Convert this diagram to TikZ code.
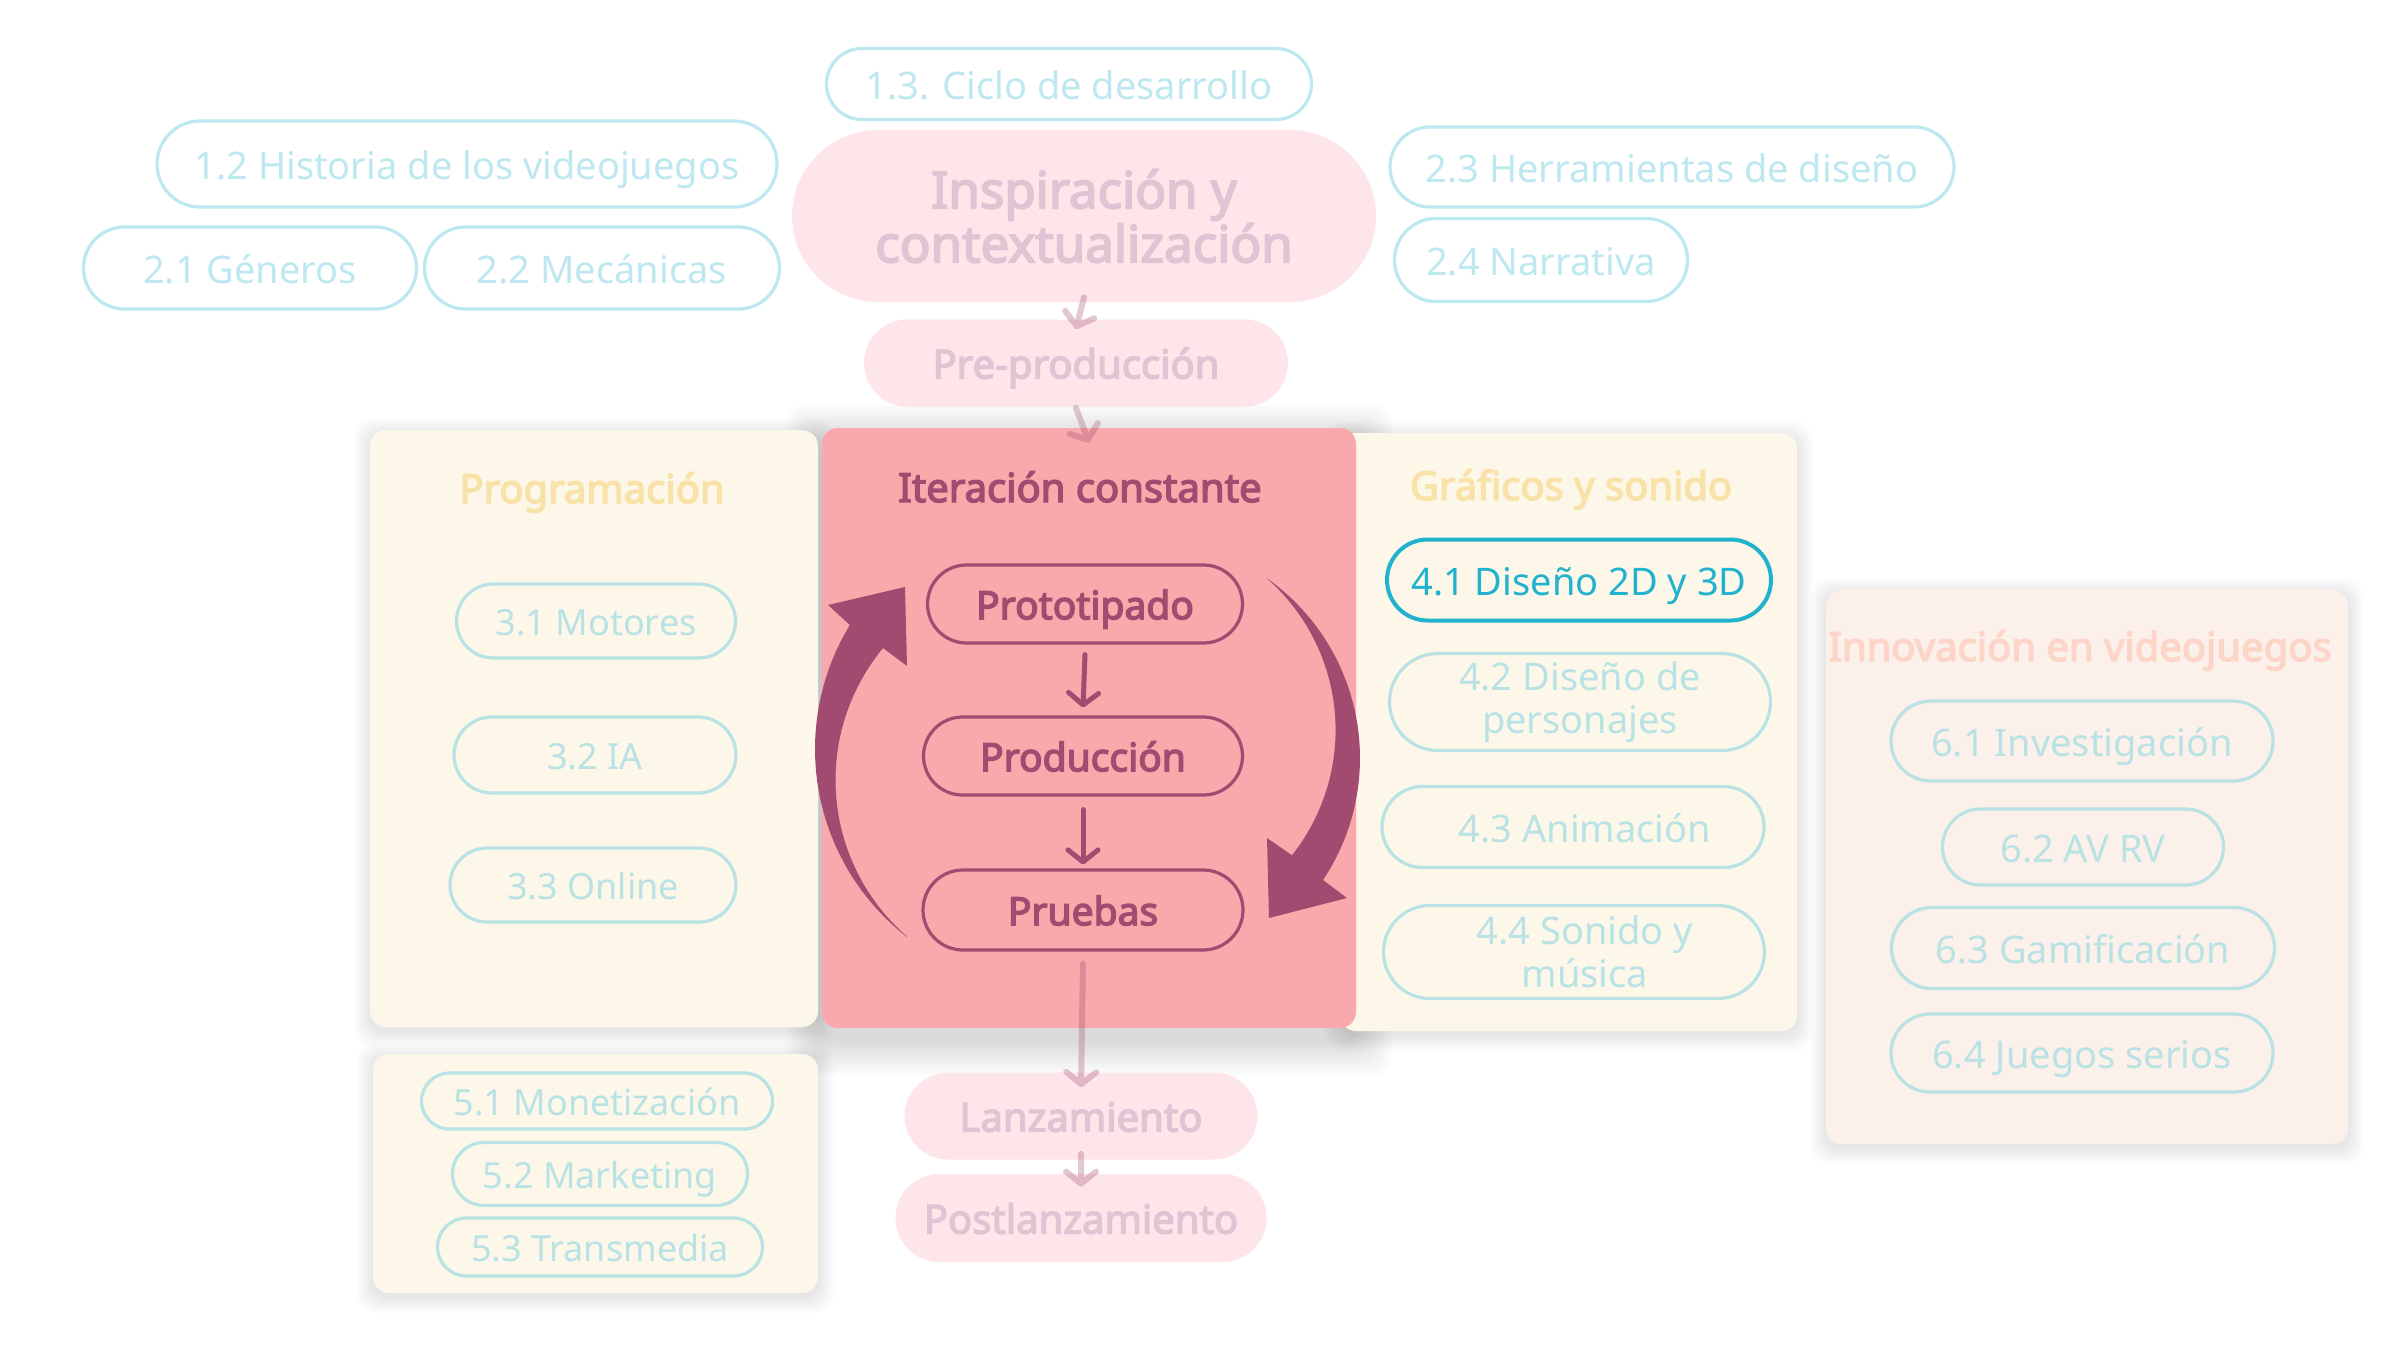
\documentclass[tikz,border=0pt]{standalone}
\usepackage{fontspec}
\setmainfont{Noto Sans}[AutoFakeBold=3.5]
\usetikzlibrary{arrows.meta,calc}
\definecolor{cyanTop}{RGB}{189,232,240}
\definecolor{cyanSub}{RGB}{184,226,228}
\definecolor{cyanHot}{RGB}{33,178,206}
\definecolor{creamPanel}{RGB}{253,247,234}
\definecolor{peachPanel}{RGB}{252,240,234}
\definecolor{yellowTitle}{RGB}{248,226,168}
\definecolor{peachTitle}{RGB}{252,213,200}
\definecolor{stageFill}{RGB}{253,229,233}
\definecolor{stageText}{RGB}{225,196,212}
\definecolor{iterFill}{RGB}{249,168,172}
\definecolor{mauve}{RGB}{162,74,111}
\newcommand\lvlfont{\fontsize{19pt}{21.5pt}\selectfont}
\newcommand\lvlsmall{\fontsize{18pt}{21pt}\selectfont}
\newcommand\stagefont{\bfseries\fontsize{20pt}{23pt}\selectfont}
\newcommand\inspfont{\bfseries\fontsize{25.5pt}{27pt}\selectfont}
\newcommand\titlefont{\bfseries\fontsize{20pt}{23pt}\selectfont}
\newcommand\iterfont{\bfseries\fontsize{19.5pt}{22pt}\selectfont}
\newcommand\dropshade[7]{%
  \foreach \i in {1,...,12}{%
    \fill[black, opacity=#6, rounded corners=9pt]
      ({#1-#5*\i/12},{#2-#5*\i/12+#7}) rectangle ({#3+#5*\i/12},{#4+#5*\i/12+#7});}}
\tikzset{
  pill/.style 2 args={rectangle, rounded corners=#2*0.25pt, minimum width=#1*0.5pt, minimum height=#2*0.5pt, inner sep=0pt, align=center},
  oneline/.style={text height=#1, text depth=0pt},
  topbox/.style={draw=cyanTop, line width=1.6pt, fill=white, text=cyanTop, font=\lvlfont, oneline=15pt},
  subbox/.style={draw=cyanSub, line width=1.6pt, text=cyanSub, font=\lvlfont, oneline=15pt},
  subsmall/.style={draw=cyanSub, line width=1.6pt, text=cyanSub, font=\lvlsmall, oneline=14.4pt},
  twoline/.style={draw=cyanSub, line width=1.6pt, text=cyanSub, font=\lvlfont},
  hotbox/.style={draw=cyanHot, line width=2pt, text=cyanHot, font=\lvlfont, oneline=15pt},
  stage/.style={fill=stageFill, text=stageText, font=\stagefont, oneline=15.5pt},
  iterbox/.style={draw=mauve, line width=1.6pt, text=mauve, font=\iterfont, oneline=15.2pt},
  panel/.style 2 args={rectangle, rounded corners=8pt, minimum width=#1*0.5pt, minimum height=#2*0.5pt, inner sep=0pt},
  ptitle/.style={anchor=base, font=\titlefont},
  flow/.style={draw=mauve, line width=2.5pt, line cap=round, -{Straight Barb[length=6pt, width=15pt, round]}},
  fadeflow/.style={draw=mauve, line width=3pt, line cap=round, -{Straight Barb[length=6pt, width=15pt, round]}},
}
\begin{document}
\begin{tikzpicture}[x=0.5pt,y=-0.5pt]
\useasboundingbox[fill=white] (0,0) rectangle (2400,1350);

% top level boxes
\node[pill={485}{71}, topbox] (c13) at (1069,84) {1.3. Ciclo de desarrollo};
\node[pill={620}{86}, topbox] (h12) at (467,164) {1.2 Historia de los videojuegos};
\node[pill={333}{82}, topbox] (g21) at (250,268) {2.1 Géneros};
\node[pill={355}{82}, topbox] (m22) at (602,268) {2.2 Mecánicas};
\node[pill={564}{80}, topbox] (h23) at (1672,167) {2.3 Herramientas de diseño};
\node[pill={293}{83}, topbox] (n24) at (1541,260) {2.4 Narrativa};

% stages
\node[pill={584}{172}, fill=stageFill, text=stageText, font=\inspfont] (insp) at (1084,216) {Inspiración y\\contextualización};
\node[pill={424}{87}, stage] (pre) at (1076,363) {Pre-producción};

% soft shadows
\dropshade{370}{430}{818}{1027}{16}{0.006}{4}
\dropshade{373}{1054}{818}{1293}{16}{0.006}{4}
\dropshade{1340}{433}{1797}{1031}{16}{0.006}{4}
\dropshade{1826}{590}{2348}{1144}{16}{0.006}{4}
\dropshade{822}{428}{1356}{1028}{36}{0.011}{12}

% panels
\node[panel={448}{597}, fill=creamPanel] (prog) at (594,728.5) {};
\node[panel={445}{239}, fill=creamPanel] (mon) at (595.5,1173.5) {};
\node[panel={457}{598}, fill=creamPanel] (graf) at (1568.5,732) {};
\node[panel={522}{554}, fill=peachPanel] (inno) at (2087,867) {};
\node[panel={534}{600}, fill=iterFill] (iter) at (1089,728) {};

% panel titles
\node[ptitle, text=yellowTitle] (progT) at (592,503) {Programación};
\node[ptitle, text=mauve] (iterT) at (1080,502) {Iteración constante};
\node[ptitle, text=yellowTitle] (grafT) at (1571,500) {Gráficos y sonido};
\node[ptitle, text=peachTitle] (innoT) at (2080,661) {Innovación en videojuegos};

% programación
\node[pill={279}{74}, subsmall] (p31) at (596,621) {3.1 Motores};
\node[pill={282}{76}, subsmall] (p32) at (595,755) {3.2 IA};
\node[pill={286}{74}, subsmall] (p33) at (593,885) {3.3 Online};

% monetización
\node[pill={351}{56}, subsmall] (p51) at (597,1101) {5.1 Monetización};
\node[pill={295}{63}, subsmall] (p52) at (600,1174) {5.2 Marketing};
\node[pill={325}{58}, subsmall] (p53) at (600,1247) {5.3 Transmedia};

% gráficos
\node[pill={384}{81}, hotbox] (p41) at (1579,580) {4.1 Diseño 2D y 3D};
\node[pill={381}{97}, twoline] (p42) at (1580,702) {4.2 Diseño de\\personajes};
\node[pill={382}{81}, subbox] (p43) at (1573,827) {\hspace*{12pt}4.3 Animación};
\node[pill={381}{93}, twoline] (p44) at (1574,952) {\hspace*{11pt}4.4 Sonido y\\\hspace*{11pt}música};

% innovación
\node[pill={382}{80}, subbox] (p61) at (2082,741) {6.1 Investigación};
\node[pill={281}{76}, subbox] (p62) at (2083,847) {6.2 AV RV};
\node[pill={383}{81}, subbox] (p63) at (2083,948) {6.3 Gamificación};
\node[pill={382}{78}, subbox] (p64) at (2082,1053) {6.4 Juegos serios};

% iteration cycle
\node[pill={315}{78}, iterbox] (proto) at (1085,604) {Prototipado};
\node[pill={319}{78}, iterbox] (prod) at (1083,756) {Producción};
\node[pill={320}{80}, iterbox] (prue) at (1083,910) {Pruebas};

\draw[flow] ($(proto.south)+(0,10)$) -- ($(prod.north)+(0,-8)$);
\draw[flow] ($(prod.south)+(0,13)$) -- ($(prue.north)+(0,-4)$);

\fill[mauve] plot[domain=127.8:211.4, samples=50] ({1053+238*cos(\x)},{749+238*sin(\x)})
  -- (828,605) -- (905,587) -- (907,666)
  -- plot[domain=219.6:130.8, samples=50] ({1042.5+207*cos(\x)},{780+207*sin(\x)}) -- cycle;
\fill[mauve] plot[domain=-54.8:33.7, samples=50] ({1140+220*cos(\x)},{758+220*sin(\x)})
  -- (1347,898) -- (1269,918) -- (1267,838)
  -- plot[domain=38.4:-48.8, samples=50] ({1134+201.6*cos(\x)},{730+201.6*sin(\x)}) -- cycle;

% launch stages
\node[pill={353}{87}, stage] (lanz) at (1081,1116) {Lanzamiento};
\node[pill={371}{88}, stage] (post) at (1081,1218) {Postlanzamiento};

% faded connectors
\begin{scope}[transparency group, opacity=0.3]
\draw[fadeflow] ($(insp.south)+(0,-5)$) -- ($(pre.north)+(0,10)$);
\end{scope}
\begin{scope}[transparency group, opacity=0.3]
\draw[fadeflow] ($(pre.south)+(0,1)$) -- ($(iter.north)+(0,15)$);
\end{scope}
\begin{scope}[transparency group, opacity=0.3]
\draw[fadeflow] ($(prue.south)+(0,12)$) -- ($(lanz.north)+(0,15)$);
\end{scope}
\begin{scope}[transparency group, opacity=0.3]
\draw[fadeflow] ($(lanz.south)+(0,-6)$) -- ($(post.north)+(0,13)$);
\end{scope}
\end{tikzpicture}
\end{document}
